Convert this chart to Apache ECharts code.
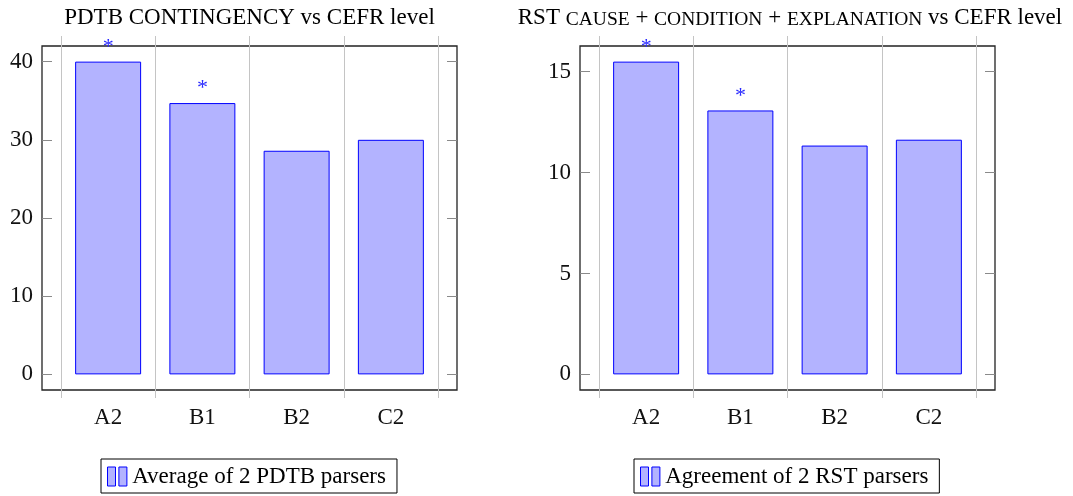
<!DOCTYPE html>
<html>
<head>
<meta charset="utf-8">
<script src="https://cdn.jsdelivr.net/npm/echarts@6/dist/echarts.min.js"></script>
<style>
html,body{margin:0;padding:0;background:#fff;}
#chart{width:1073px;height:496px;}
</style>
</head>
<body>
<div id="chart"></div>
<script>
// ---- data ----
const categories = ['A2', 'B1', 'B2', 'C2'];
const pdtbValues = [40.0, 34.7, 28.6, 30.0];
const rstValues = [15.5, 13.08, 11.34, 11.63];
const pdtbMarks = ['*', '*', '', ''];
const rstMarks = ['*', '*', '', ''];
const pdtbTicks = [0, 10, 20, 30, 40];
const rstTicks = [0, 5, 10, 15];
const pdtbRange = [-2, 42];
const rstRange = [-0.775, 16.275];
const pdtbName = 'Average of 2 PDTB parsers';
const rstName = 'Agreement of 2 RST parsers';
const pdtbTitle = 'PDTB CONTINGENCY vs CEFR level';

// ---- styles ----
const FONT = "'Liberation Serif', 'Times New Roman', serif";
const FS = 23;
const tickColor = '#8a8a8a';
const gridColor = '#c4c4c4';
const frameColor = '#222222';
const barFill = '#b3b3ff';
const barStroke = '#0000ff';
const iconPath = 'path://M0,0h8v19h-8z M11.4,0h8v19h-8z';

function frameGrid(left) {
  return { left: left, top: 46, width: 415, height: 344, show: true,
           borderColor: frameColor, borderWidth: 1.3, backgroundColor: 'transparent' };
}
function dataGrid(left) {
  return { left: left, top: 46, width: 377, height: 344 };
}
function frameYAxes(gi, range, ticks) {
  return [
    { gridIndex: gi, type: 'value', min: range[0], max: range[1], position: 'left',
      axisLine: { show: false, onZero: false },
      axisTick: { show: true, inside: true, length: 10, customValues: ticks,
                  lineStyle: { color: tickColor, width: 1 } },
      axisLabel: { show: true, customValues: ticks, margin: 9, fontSize: FS,
                   fontFamily: FONT, color: '#111' },
      splitLine: { show: false } },
    { gridIndex: gi, type: 'value', min: range[0], max: range[1], position: 'right',
      axisLine: { show: false, onZero: false },
      axisTick: { show: true, inside: true, length: 10, customValues: ticks,
                  lineStyle: { color: tickColor, width: 1 } },
      axisLabel: { show: false },
      splitLine: { show: false } },
  ];
}
function dataXAxes(gi) {
  return [
    { gridIndex: gi, type: 'category', data: categories, position: 'bottom',
      axisLine: { show: false, onZero: false },
      axisTick: { show: true, length: 8, lineStyle: { color: gridColor, width: 1 } },
      axisLabel: { fontSize: FS, fontFamily: FONT, color: '#111', margin: 16 },
      splitLine: { show: true, lineStyle: { color: gridColor, width: 1 } } },
    { gridIndex: gi, type: 'category', data: categories, position: 'top',
      axisLine: { show: false, onZero: false },
      axisTick: { show: true, length: 10, lineStyle: { color: gridColor, width: 1 } },
      axisLabel: { show: false },
      splitLine: { show: false } },
  ];
}
function barSeries(name, values, marks, xi, yi) {
  return {
    type: 'bar', name: name, xAxisIndex: xi, yAxisIndex: yi, data: values,
    barWidth: '70%', animation: false,
    itemStyle: { color: barFill, borderColor: barStroke, borderWidth: 1 },
    label: { show: true, position: 'top', distance: 4,
             formatter: p => marks[p.dataIndex],
             color: '#2a2aff', fontSize: 22, fontFamily: FONT, lineHeight: 21 },
    emphasis: { disabled: true }
  };
}
function legendFor(name, left) {
  return {
    data: [name], left: left, top: 459, orient: 'horizontal',
    borderColor: '#000', borderWidth: 1, padding: [6, 11, 5, 6],
    itemWidth: 20, itemHeight: 19, icon: iconPath, selectedMode: false,
    itemStyle: { color: barFill, borderColor: barStroke, borderWidth: 1 },
    textStyle: { fontSize: FS, fontFamily: FONT, color: '#000' }
  };
}

const chart = echarts.init(document.getElementById('chart'), null, { renderer: 'canvas' });
const option = {
  animation: false,
  backgroundColor: '#fff',
  grid: [frameGrid(42), dataGrid(61), frameGrid(580), dataGrid(599)],
  xAxis: [
    { gridIndex: 0, type: 'value', show: false },
    ...dataXAxes(1),
    { gridIndex: 2, type: 'value', show: false },
    ...dataXAxes(3),
  ],
  yAxis: [
    ...frameYAxes(0, pdtbRange, pdtbTicks),
    { gridIndex: 1, type: 'value', min: pdtbRange[0], max: pdtbRange[1], show: false },
    ...frameYAxes(2, rstRange, rstTicks),
    { gridIndex: 3, type: 'value', min: rstRange[0], max: rstRange[1], show: false },
  ],
  legend: [legendFor(pdtbName, 101), legendFor(rstName, 634)],
  series: [
    barSeries(pdtbName, pdtbValues, pdtbMarks, 1, 2),
    barSeries(rstName, rstValues, rstMarks, 4, 5),
  ],
  graphic: [
    { type: 'text', x: 249.5, y: 18,
      style: { text: pdtbTitle, fontSize: FS, fontFamily: FONT, fill: '#000',
               align: 'center', verticalAlign: 'middle' } },
    { type: 'text', x: 790, y: 18,
      style: { text: '{n|RST }{sc|CAUSE}{n| + }{sc|CONDITION}{n| + }{sc|EXPLANATION}{n| vs CEFR level}',
               fontSize: FS, fontFamily: FONT, fill: '#000',
               align: 'center', verticalAlign: 'middle',
               rich: {
                 n: { fontSize: FS, fontFamily: FONT, fill: '#000', verticalAlign: 'bottom' },
                 sc: { fontSize: 19.5, fontFamily: FONT, fill: '#000', verticalAlign: 'bottom' }
               } } }
  ]
};
chart.setOption(option);
</script>
</body>
</html>
